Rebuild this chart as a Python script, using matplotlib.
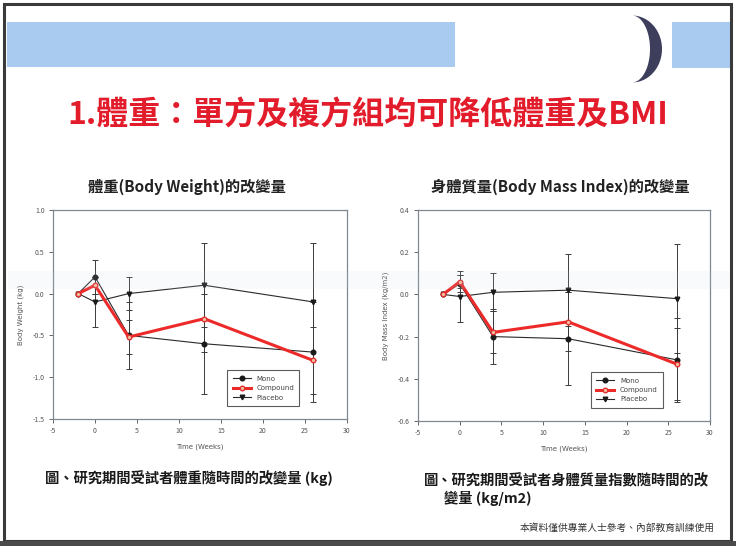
import matplotlib
matplotlib.use("Agg")
import matplotlib.pyplot as plt
from matplotlib.patches import Rectangle, Polygon
import numpy as np

plt.rcParams['font.family'] = ['Noto Sans CJK TC', 'DejaVu Sans']

# ---- data ----
weeks = [-2, 0, 4, 13, 26]
series_names = ["Mono", "Compound", "Placebo"]

bw_mono = [0.0, 0.2, -0.5, -0.6, -0.7]
bw_mono_err = [0.0, 0.2, 0.4, 0.6, 0.6]
bw_comp = [0.0, 0.1, -0.52, -0.3, -0.8]
bw_comp_err = [0.0, 0.1, 0.2, 0.4, 0.4]
bw_plac = [0.0, -0.1, 0.0, 0.1, -0.1]
bw_plac_err = [0.0, 0.3, 0.2, 0.5, 0.7]

bmi_mono = [0.0, 0.05, -0.2, -0.21, -0.31]
bmi_mono_err = [0.0, 0.04, 0.13, 0.22, 0.2]
bmi_comp = [0.0, 0.06, -0.18, -0.13, -0.33]
bmi_comp_err = [0.0, 0.03, 0.1, 0.14, 0.17]
bmi_plac = [0.0, -0.01, 0.01, 0.02, -0.02]
bmi_plac_err = [0.0, 0.12, 0.09, 0.17, 0.26]

x_ticks = [-5, 0, 5, 10, 15, 20, 25, 30]
bw_yticks = [-1.5, -1.0, -0.5, 0.0, 0.5, 1.0]
bmi_yticks = [-0.6, -0.4, -0.2, 0.0, 0.2, 0.4]

slide_title = "1.體重：單方及複方組均可降低體重及BMI"
bw_title = "體重(Body Weight)的改變量"
bmi_title = "身體質量(Body Mass Index)的改變量"
bw_caption = "圖、研究期間受試者體重隨時間的改變量 (kg)"
bmi_caption_1 = "圖、研究期間受試者身體質量指數隨時間的改"
bmi_caption_2 = "變量 (kg/m2)"
footer = "本資料僅供專業人士參考、內部教育訓練使用"

W, H = 736, 546
fig = plt.figure(figsize=(W / 100, H / 100), dpi=100)
fig.patch.set_facecolor("white")

# ---- slide decoration (pixel coordinates) ----
bg = fig.add_axes([0, 0, 1, 1], zorder=-5)
bg.set_xlim(0, W)
bg.set_ylim(H, 0)
bg.axis("off")
bg.add_patch(Rectangle((7, 22), 448, 45, facecolor="#a8cbef", edgecolor="none"))
bg.add_patch(Rectangle((672, 22), 58, 46, facecolor="#a8cbef", edgecolor="none"))
t = np.linspace(-np.pi / 2, np.pi / 2, 60)
outer = np.column_stack([632 + 30 * np.cos(t), 49 + 33.5 * np.sin(t)])
inner = np.column_stack([632 + 18 * np.cos(t[::-1]), 49 + 33.5 * np.sin(t[::-1])])
bg.add_patch(Polygon(np.vstack([outer, inner]), closed=True,
                     facecolor="#3c3e5c", edgecolor="none"))
bg.add_patch(Rectangle((4, 4), 727, 537, facecolor="none", edgecolor="#3a3a3a", lw=2.2))
bg.add_patch(Rectangle((0, 541), W, 5, facecolor="#4a4a4a", edgecolor="none"))

bg.text(368, 116, slide_title, ha="center", va="center", fontsize=23,
        fontweight="bold", color="#e31c2b")
bg.text(187, 187, bw_title, ha="center", va="center", fontsize=11,
        fontweight="bold", color="#222222")
bg.text(560, 187, bmi_title, ha="center", va="center", fontsize=11,
        fontweight="bold", color="#222222")
bg.text(45, 478, bw_caption, ha="left", va="center", fontsize=10.3,
        fontweight="bold", color="#1a1a1a")
bg.text(424, 481, bmi_caption_1, ha="left", va="center", fontsize=10.3,
        fontweight="bold", color="#1a1a1a")
bg.text(444, 498, bmi_caption_2, ha="left", va="center", fontsize=10.3,
        fontweight="bold", color="#1a1a1a")
bg.text(715, 528, footer, ha="right", va="center", fontsize=7,
        color="#333333")


def px_axes(left, top, right, bottom):
    return [left / W, 1 - bottom / H, (right - left) / W, (bottom - top) / H]


def plot_series(ax, y, err, label, color, lw, marker, mfc, mec, z):
    ax.plot(weeks, y, color=color, lw=lw, marker=marker, ms=3.3, mfc=mfc,
            mec=mec, label=label, zorder=z)
    keep = [i for i, e in enumerate(err) if e > 0]
    ax.errorbar([weeks[i] for i in keep], [y[i] for i in keep],
                yerr=[err[i] for i in keep], fmt="none", ecolor="#3a3a3a",
                elinewidth=0.7, capsize=2, capthick=0.7, zorder=2)


def draw_panel(rect, mono, mono_err, comp, comp_err, plac, plac_err,
               ylim, yticks, ylabel):
    ax = fig.add_axes(rect)
    ax.set_facecolor("none")
    plot_series(ax, mono, mono_err, series_names[0], "#2a2a2a", 0.8, "o",
                "#1a1a1a", "#1a1a1a", 3)
    plot_series(ax, comp, comp_err, series_names[1], "#ec2a2a", 2.2, "o",
                "#f2c0a0", "#e23030", 4)
    plot_series(ax, plac, plac_err, series_names[2], "#2a2a2a", 0.8, "v",
                "#1a1a1a", "#1a1a1a", 3)
    ax.set_xlim(-5, 30)
    ax.set_ylim(*ylim)
    ax.set_xticks(x_ticks)
    ax.set_xticklabels([str(v) for v in x_ticks])
    ax.set_yticks(yticks)
    ax.set_yticklabels([f"{v:.1f}" for v in yticks])
    ax.tick_params(direction="out", length=3, width=0.7, labelsize=5,
                   labelcolor="#555555", color="#666666", pad=3)
    for s in ax.spines.values():
        s.set_color("#7d8893")
        s.set_linewidth(0.9)
    ax.set_xlabel("Time (Weeks)", fontsize=5, color="#555555", labelpad=6,
                  family="DejaVu Sans")
    ax.set_ylabel(ylabel, fontsize=5, color="#555555", labelpad=6,
                  family="DejaVu Sans")
    leg = ax.legend(loc="lower left", bbox_to_anchor=(0.58, 0.045),
                    frameon=True, fancybox=False, edgecolor="#333333",
                    handlelength=2.6, borderpad=0.8, labelspacing=0.5,
                    prop={"family": "DejaVu Sans", "size": 5})
    leg.get_frame().set_linewidth(0.8)
    for txt in leg.get_texts():
        txt.set_color("#444444")
    return ax


draw_panel(px_axes(53, 210, 347, 419), bw_mono, bw_mono_err, bw_comp,
           bw_comp_err, bw_plac, bw_plac_err, (-1.5, 1.0), bw_yticks,
           "Body Weight (kg)")
draw_panel(px_axes(418, 210, 710, 421), bmi_mono, bmi_mono_err, bmi_comp,
           bmi_comp_err, bmi_plac, bmi_plac_err, (-0.6, 0.4), bmi_yticks,
           "Body Mass Index (kg/m2)")

# faint scanner streak across the slide
fg = fig.add_axes([0, 0, 1, 1], zorder=20)
fg.set_xlim(0, W)
fg.set_ylim(H, 0)
fg.axis("off")
fg.set_facecolor("none")
fg.add_patch(Rectangle((8, 271), 722, 18, facecolor="#c9d9e6", alpha=0.12,
                       edgecolor="none"))

fig.savefig("out.png", dpi=100)
